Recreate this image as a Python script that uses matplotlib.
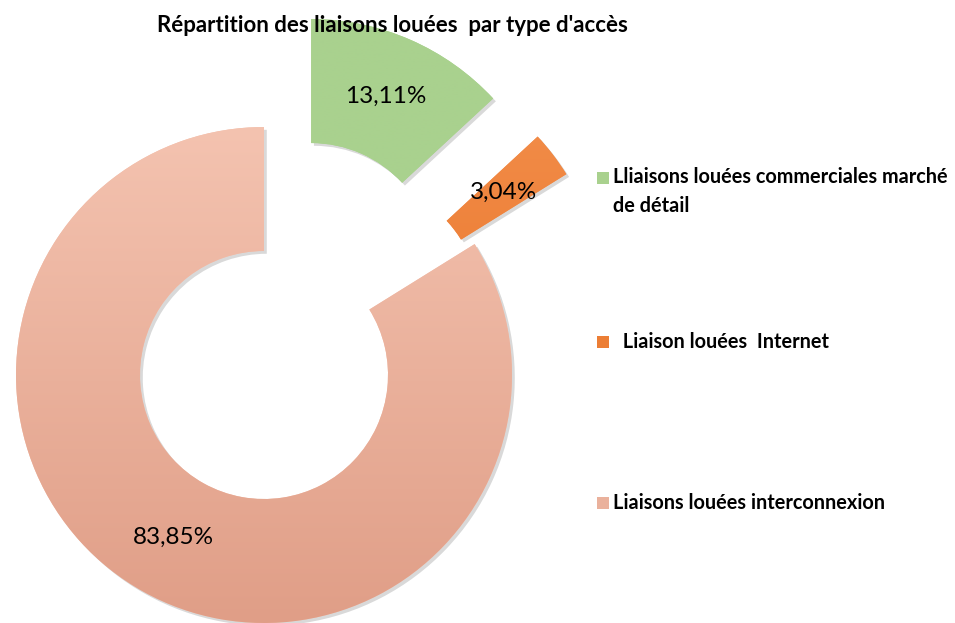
import numpy as np
import matplotlib.pyplot as plt
from matplotlib import patheffects as pe
from matplotlib.colors import LinearSegmentedColormap, to_rgb
from matplotlib.patches import Rectangle

plt.rcParams['font.family'] = ['Lato', 'DejaVu Sans']

title = "Répartition des liaisons louées  par type d'accès"
categories = ["Lliaisons louées commerciales marché\nde détail",
              "  Liaison louées  Internet",
              "Liaisons louées interconnexion"]
shares = [13.11, 3.04, 83.85]
top_colors = ["#A9D18E", "#F4914F", "#F4C3B0"]
bottom_colors = ["#A9D18E", "#E46A1A", "#E09E87"]

W, H = 955, 623
R = 248.0                 # outer radius in pixels
cx, cy = 264, 375         # donut centre in pixels

fig = plt.figure(figsize=(W / 100, H / 100), dpi=100)
ax = fig.add_axes([0, 0, 1, 1])

wedges, texts, autotexts = ax.pie(
    shares, startangle=90, counterclock=False,
    explode=[0.475, 0.465, 0], radius=1, center=(0, 0),
    autopct=lambda p: f"{p:.2f}%".replace(".", ","), pctdistance=0.75,
    wedgeprops=dict(width=0.5, linewidth=0),
    textprops=dict(fontsize=17.5, color="black"))

# vertical gradient fill + soft shadow, as in the spreadsheet export
for w, c_top, c_bot in zip(wedges, top_colors, bottom_colors):
    w.set_facecolor(c_top)
    w.set_path_effects([pe.SimplePatchShadow(offset=(2, -2), shadow_rgbFace="black", alpha=0.15),
                        pe.Normal()])
    x0, y0 = w.center
    cmap = LinearSegmentedColormap.from_list("g", [c_bot, c_top])
    grad = np.linspace(0, 1, 256).reshape(-1, 1)
    im = ax.imshow(grad, cmap=cmap, origin="lower", aspect="auto",
                   extent=(x0 - 1, x0 + 1, y0 - 1, y0 + 1), zorder=1.5)
    im.set_clip_path(w)

for t in autotexts:
    t.set_zorder(4)

ax.set_xlim(-cx / R, (W - cx) / R)
ax.set_ylim(-(H - cy) / R, cy / R)
ax.set_aspect("equal")
ax.axis("off")

fig.text(392 / W, 1 - 25 / H, title, ha="center", va="center",
         fontsize=16, fontweight="bold")

# legend (right side)
leg_y = [178, 342, 503]
for lab, y, c_top, c_bot in zip(categories, leg_y, top_colors, bottom_colors):
    col = (np.array(to_rgb(c_top)) + np.array(to_rgb(c_bot))) / 2
    fig.add_artist(Rectangle((597 / W, 1 - (y + 6) / H), 12 / W, 12 / H,
                             transform=fig.transFigure, color=col, lw=0))
    fig.text(613 / W, 1 - (y - 11) / H if "\n" in lab else 1 - y / H, lab,
             ha="left", va="top" if "\n" in lab else "center",
             fontsize=14.3, fontweight="bold", linespacing=1.55)

fig.savefig("out.png", dpi=100)
